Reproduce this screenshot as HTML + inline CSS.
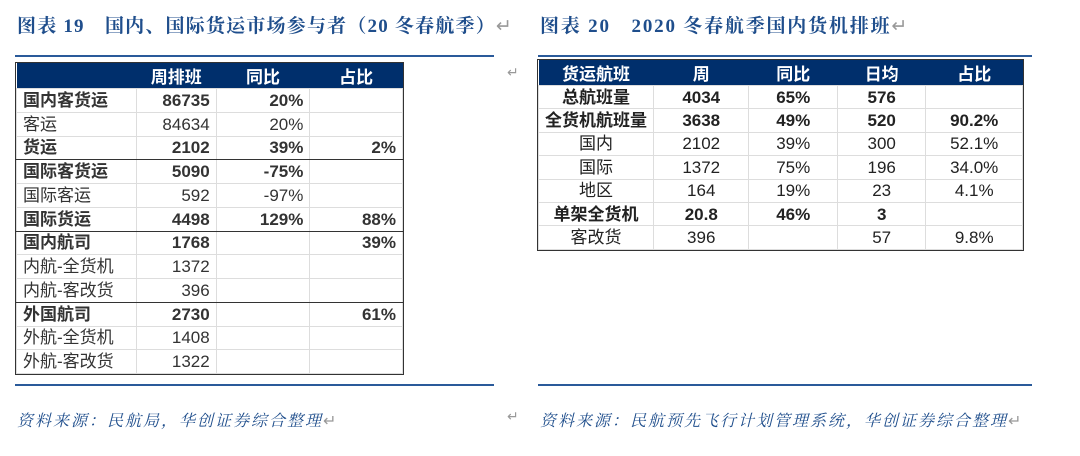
<!DOCTYPE html>
<html><head><meta charset="utf-8"><style>
*{margin:0;padding:0;box-sizing:border-box}
body{width:1080px;height:456px;background:#fff;position:relative;overflow:hidden;font-family:"Liberation Sans","Noto Sans CJK SC",sans-serif}
.t{position:absolute;font-family:"Liberation Serif","Noto Serif CJK SC",serif;font-weight:bold;color:#1f4e8c;font-size:19px;letter-spacing:1.2px;white-space:nowrap}
.ln{position:absolute;height:2px;background:#2a5a9a}
.src{position:absolute;font-family:"Liberation Serif","Noto Serif CJK SC",serif;font-style:italic;color:#1f4e8c;font-size:16px;letter-spacing:2px;white-space:nowrap}
table{position:absolute;border-collapse:collapse;font-size:17px;color:#333;outline:1.5px solid #333}
td{border:1px solid #ddd;padding:0 6px;white-space:nowrap;line-height:1}
th{background:#002f6c;color:#fff;font-weight:bold;border:0}
.b{font-weight:bold}
.r{text-align:right}
.c td{text-align:center}
.dk td{border-bottom:1.5px solid #333}
.ret{position:absolute;color:#999;font-size:14px}
</style></head><body>
<div class="t" style="left:17px;top:11px">图表 19　国内、国际货运市场参与者（20 冬春航季）<span style="color:#999;font-weight:normal">↵</span></div>
<div class="t" style="left:540px;top:11px;letter-spacing:1.8px">图表 20　2020 冬春航季国内货机排班<span style="color:#999;font-weight:normal">↵</span></div>
<div class="ln" style="left:15px;top:55px;width:479px"></div>
<div class="ln" style="left:538px;top:55px;width:494px"></div>
<div class="ln" style="left:15px;top:384px;width:479px"></div>
<div class="ln" style="left:538px;top:384px;width:494px"></div>
<div class="ret" style="left:507px;top:64px">↵</div>
<div class="ret" style="left:507px;top:408px">↵</div>
<div class="src" style="left:17px;top:408px">资料来源：民航局，华创证券综合整理<span style="color:#999;font-style:normal">↵</span></div>
<div class="src" style="left:540px;top:408px">资料来源：民航预先飞行计划管理系统，华创证券综合整理<span style="color:#999;font-style:normal">↵</span></div>

<table style="left:16px;top:63px;width:387px">
<colgroup><col style="width:120px"><col style="width:80px"><col style="width:94px"><col style="width:93px"></colgroup>
<tr style="height:24px"><th></th><th>周排班</th><th>同比</th><th>占比</th></tr>
<tr style="height:23.75px" class="b"><td>国内客货运</td><td class="r">86735</td><td class="r">20%</td><td></td></tr>
<tr style="height:23.75px"><td>客运</td><td class="r">84634</td><td class="r">20%</td><td></td></tr>
<tr style="height:23.75px" class="b dk"><td>货运</td><td class="r">2102</td><td class="r">39%</td><td class="r">2%</td></tr>
<tr style="height:23.75px" class="b"><td>国际客货运</td><td class="r">5090</td><td class="r">-75%</td><td></td></tr>
<tr style="height:23.75px"><td>国际客运</td><td class="r">592</td><td class="r">-97%</td><td></td></tr>
<tr style="height:23.75px" class="b dk"><td>国际货运</td><td class="r">4498</td><td class="r">129%</td><td class="r">88%</td></tr>
<tr style="height:23.75px" class="b"><td>国内航司</td><td class="r">1768</td><td></td><td class="r">39%</td></tr>
<tr style="height:23.75px"><td>内航-全货机</td><td class="r">1372</td><td></td><td></td></tr>
<tr style="height:23.75px" class="dk"><td>内航-客改货</td><td class="r">396</td><td></td><td></td></tr>
<tr style="height:23.75px" class="b"><td>外国航司</td><td class="r">2730</td><td></td><td class="r">61%</td></tr>
<tr style="height:23.75px"><td>外航-全货机</td><td class="r">1408</td><td></td><td></td></tr>
<tr style="height:23.75px"><td>外航-客改货</td><td class="r">1322</td><td></td><td></td></tr>
</table>

<table style="left:538px;top:60px;width:485px;color:#222">
<colgroup><col style="width:114px"><col style="width:96px"><col style="width:89px"><col style="width:89px"><col style="width:97px"></colgroup>
<tr style="height:23px"><th>货运航班</th><th>周</th><th>同比</th><th>日均</th><th>占比</th></tr>
<tr style="height:23.4px" class="c b"><td>总航班量</td><td>4034</td><td>65%</td><td>576</td><td></td></tr>
<tr style="height:23.4px" class="c b"><td>全货机航班量</td><td>3638</td><td>49%</td><td>520</td><td>90.2%</td></tr>
<tr style="height:23.4px" class="c"><td>国内</td><td>2102</td><td>39%</td><td>300</td><td>52.1%</td></tr>
<tr style="height:23.4px" class="c"><td>国际</td><td>1372</td><td>75%</td><td>196</td><td>34.0%</td></tr>
<tr style="height:23.4px" class="c"><td>地区</td><td>164</td><td>19%</td><td>23</td><td>4.1%</td></tr>
<tr style="height:23.4px" class="c b"><td>单架全货机</td><td>20.8</td><td>46%</td><td>3</td><td></td></tr>
<tr style="height:23.4px" class="c"><td>客改货</td><td>396</td><td></td><td>57</td><td>9.8%</td></tr>
</table>
</body></html>
